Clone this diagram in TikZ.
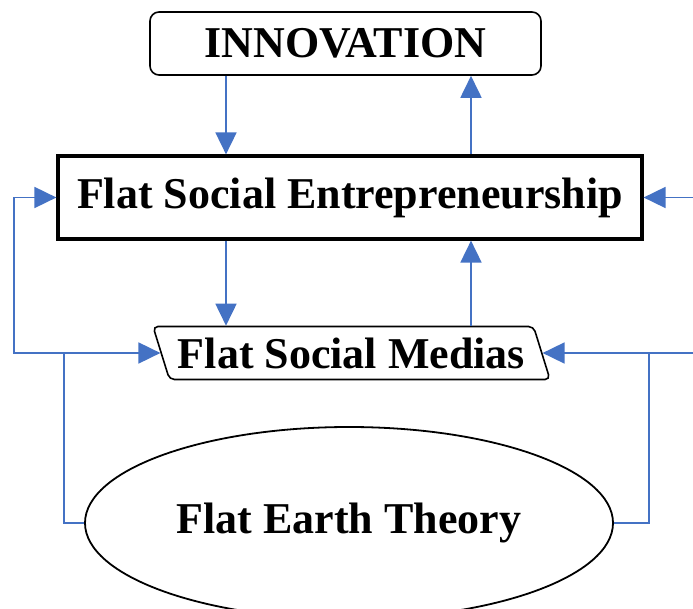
\documentclass[tikz,border=0pt]{standalone}
\usepackage{fontspec}
\setmainfont{Liberation Serif}
\usetikzlibrary{arrows.meta}
\usetikzlibrary{shapes}
\definecolor{linkblue}{RGB}{68,114,196}
\tikzset{
	every node/.style={
		font=\fontsize{44}{50}\selectfont\bfseries,
		inner sep=0pt,
	},
	topbox/.style={
		draw,
		rectangle,
		rounded corners=9pt,
		line width=1.6pt,
	},
	mainbox/.style={
		draw,
		rectangle,
		line width=3.2pt,
	},
	mediabox/.style={
		draw,
		trapezium,
		trapezium left angle=118,
		trapezium right angle=62,
		trapezium stretches body=true,
		rounded corners=5pt,
		line width=1.6pt,
	},
	theory/.style={
		draw,
		ellipse,
		line width=1.8pt,
	},
	link/.style={
		draw=linkblue,
		line width=1.8pt,
		-{Triangle[length=22pt,width=21pt]}
	},
	plain/.style={
		draw=linkblue,
		line width=1.8pt,
	},
}
\begin{document}
\begin{tikzpicture}[x=1pt, y=-1pt]
		\useasboundingbox (0,0) rectangle (693,609);

		\node[topbox, minimum width=391pt, minimum height=63pt]   (innov) at (345.5,43.5) {INNOVATION};
		\node[mainbox, minimum width=584pt, minimum height=83pt]  (fse) at (350,197.5) {Flat Social Entrepreneurship};
		\node[mediabox, minimum width=397pt, minimum height=53pt] (medias) at (351.5,353) {Flat Social Medias};
		\node[theory, minimum width=528pt, minimum height=192pt]  (earth) at (349,523) {Flat Earth Theory};

		% columns of the vertical links
		\coordinate (lcol) at (226,0);
		\coordinate (rcol) at (471,0);

		\draw[link] 				(innov.south -| lcol) -- (fse.north -| lcol);
		\draw[link] 				(fse.north -| rcol) -- (innov.south -| rcol);
		\draw[link] 				(fse.south -| lcol) -- (medias.north -| lcol);
		\draw[link] 				(medias.north -| rcol) -- (fse.south -| rcol);

%*********

		\draw[link] 				(earth.west) -- ++(-20,0) coordinate (lbend) |- (medias.west);
		\draw[link] 				(lbend |- medias.west) -- ++(-50,0) |- (fse.west);

		\draw[link] 				(earth.east) -- ++(35,0) coordinate (rbend) |- (medias.east);
		\draw[link] 				(rbend |- medias.east) -- ++(70,0) |- (fse.east);

	\end{tikzpicture}
\end{document}
